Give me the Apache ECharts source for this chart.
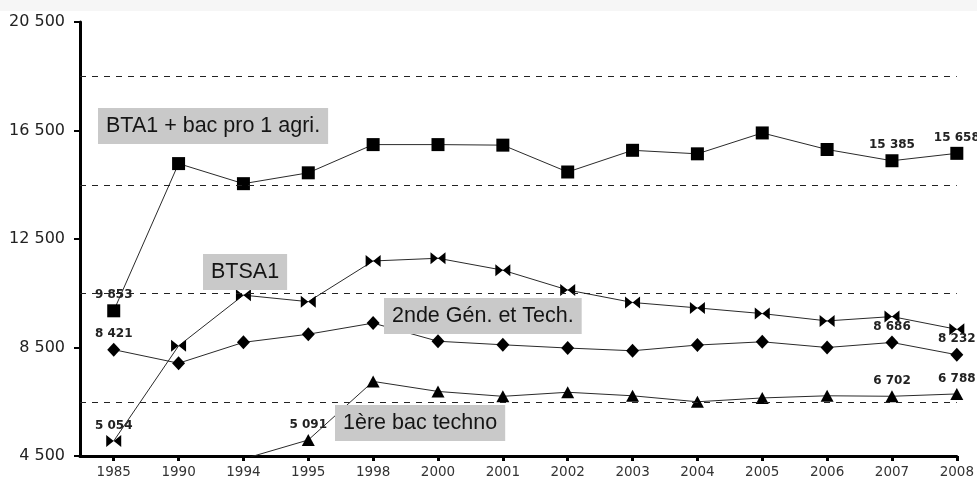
<!DOCTYPE html>
<html>
<head>
<meta charset="utf-8">
<script src="https://cdn.jsdelivr.net/npm/echarts@6/dist/echarts.min.js"></script>
<style>
  html, body { margin: 0; padding: 0; background: #fff; }
  #chart { width: 977px; height: 479px; }
</style>
</head>
<body>
<div id="chart"></div>
<script>
// Effectifs par niveau d'entrée, 1985–2008
const years = ['1985', '1990', '1994', '1995', '1998', '2000', '2001', '2002', '2003', '2004', '2005', '2006', '2007', '2008'];
const bta1BacPro = [9853, 15280, 14540, 14940, 15980, 15980, 15960, 14970, 15770, 15640, 16410, 15800, 15385, 15658];
const btsa1 = [5054, 8560, 10430, 10190, 11690, 11790, 11350, 10620, 10160, 9960, 9750, 9480, 9640, 9170];
const secondeGT = [8421, 7920, 8690, 8990, 9400, 8730, 8600, 8480, 8380, 8590, 8710, 8500, 8686, 8232];
const premiereTechno = [null, null, 4390, 5091, 7250, 6880, 6700, 6850, 6720, 6500, 6640, 6720, 6702, 6788];

// Points whose value is written next to the marker
const bta1Labelled = [0, 12, 13];
const btsa1Labelled = [0];
const secondeLabelled = [0, 12, 13];
const premiereLabelled = [3, 12, 13];

// Axis ticks and dashed reference lines
const yTicks = [4500, 8500, 12500, 16500, 20500];
const yGuides = [6500, 10500, 14500, 18500];

const fmt = v => String(Math.round(v)).replace(/\B(?=(\d{3})+(?!\d))/g, ' ');
const xIdx = years.map((_, i) => i);

function buildData(values, labelled) {
  const out = [];
  values.forEach((v, i) => {
    if (v === null) return;
    const item = { value: [i, v] };
    if (labelled.indexOf(i) >= 0) {
      item.label = {
        show: true,
        position: 'top',
        distance: 3,
        formatter: () => fmt(v),
        fontFamily: 'DejaVu Sans',
        fontWeight: 'bold',
        fontSize: 12,
        color: '#222'
      };
    }
    out.push(item);
  });
  return out;
}

const bowtie = 'path://M0,0 L10,6 L0,12 Z M20,0 L10,6 L20,12 Z';

function lineSeries(name, values, labelled, symbol, size) {
  return {
    name: name,
    type: 'line',
    data: buildData(values, labelled),
    symbol: symbol,
    symbolSize: size,
    showAllSymbol: true,
    clip: true,
    lineStyle: { color: '#2a2a2a', width: 1 },
    itemStyle: { color: '#000' },
    label: { show: false },
    emphasis: { disabled: true },
    animation: false
  };
}

const chart = echarts.init(document.getElementById('chart'), null, { renderer: 'canvas' });

const guideSeries = {
  type: 'line',
  data: [],
  silent: true,
  markLine: {
    silent: true,
    symbol: 'none',
    label: { show: false },
    lineStyle: { type: [6, 6], color: '#222', width: 1 },
    data: yGuides.map(v => ({ yAxis: v }))
  },
  animation: false
};

const annotation = (text, left, top) => ({
  type: 'text',
  left: left,
  top: top,
  z: 50,
  style: {
    text: text,
    font: '21.5px "Liberation Sans", Arial, sans-serif',
    fill: '#151515',
    backgroundColor: '#c9c9c9',
    padding: [7, 8, 7, 8]
  }
});

chart.setOption({
  backgroundColor: '#ffffff',
  animation: false,
  grid: { left: 80, right: 19, top: 22, bottom: 22, containLabel: false },
  xAxis: {
    type: 'value',
    min: -0.52,
    max: 13,
    splitLine: { show: false },
    axisLine: { show: true, onZero: false, lineStyle: { color: '#000', width: 3 } },
    axisTick: { show: true, customValues: xIdx, length: 5, lineStyle: { color: '#000', width: 3 } },
    axisLabel: {
      customValues: xIdx,
      formatter: v => years[Math.round(v)],
      color: '#333',
      fontFamily: 'DejaVu Sans',
      fontSize: 13.5,
      margin: 9
    }
  },
  yAxis: {
    type: 'value',
    min: 4500,
    max: 20500,
    splitLine: { show: false },
    axisLine: { show: true, onZero: false, lineStyle: { color: '#000', width: 3 } },
    axisTick: { show: true, customValues: yTicks, length: 6, lineStyle: { color: '#000', width: 2 } },
    axisLabel: {
      customValues: yTicks,
      formatter: v => fmt(v),
      color: '#222',
      fontFamily: 'DejaVu Sans',
      fontSize: 16,
      margin: 15
    }
  },
  series: [
    guideSeries,
    lineSeries('BTA1 + bac pro 1 agri.', bta1BacPro, bta1Labelled, 'rect', 13),
    lineSeries('BTSA1', btsa1, btsa1Labelled, bowtie, [15, 12]),
    lineSeries('2nde Gén. et Tech.', secondeGT, secondeLabelled, 'diamond', [13, 14]),
    lineSeries('1ère bac techno', premiereTechno, premiereLabelled, 'triangle', [13, 12])
  ],
  graphic: [
    { type: 'rect', left: 0, top: 0, z: -1, shape: { width: 977, height: 11 }, style: { fill: '#f6f6f6' } },
    annotation('BTA1 + bac pro 1 agri.', 98, 108),
    annotation('BTSA1', 203, 254),
    annotation('2nde Gén. et Tech.', 384, 298),
    annotation('1ère bac techno', 335, 405)
  ]
});
</script>
</body>
</html>
